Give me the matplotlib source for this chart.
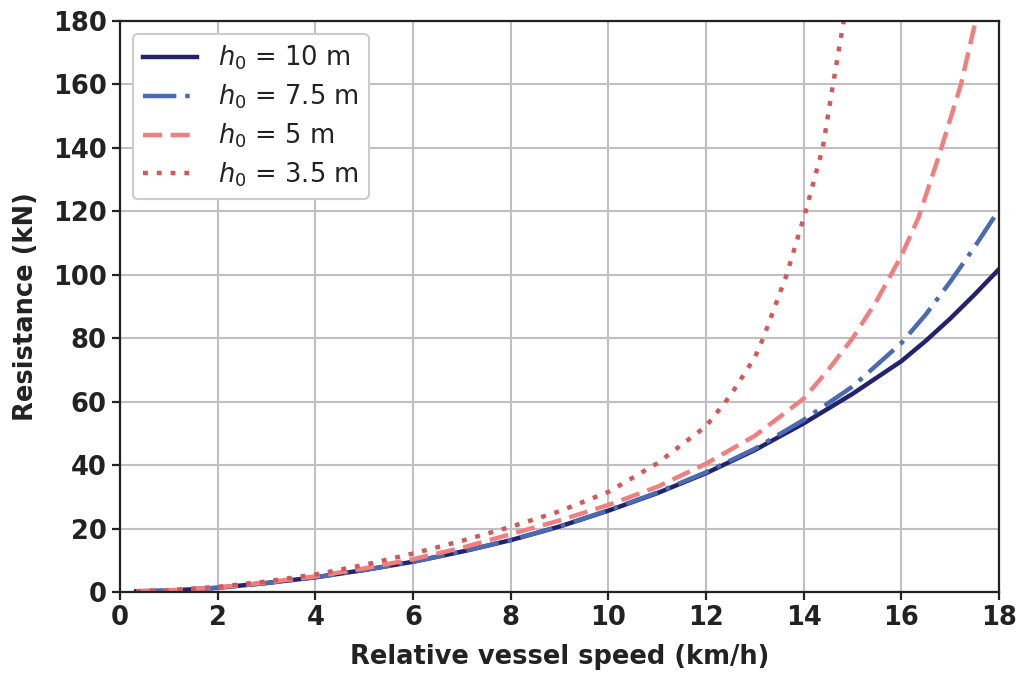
import matplotlib
matplotlib.use("Agg")
import matplotlib.pyplot as plt

# Opór [kN] w funkcji prędkości [km/h]
speed = [0.33, 1, 2, 3, 4, 5, 6, 7, 8, 9, 10, 11, 12, 13, 14, 15, 16,
         16.5, 17, 17.5, 18]
res_h10 = [0.3, 0.5, 1.4, 2.9, 4.7, 7.0, 9.6, 12.8, 16.4, 20.7, 25.7, 31.2,
           37.5, 44.8, 53.2, 62.5, 72.8, 79.2, 86.2, 93.8, 101.8]
res_h75 = [0.3, 0.5, 1.4, 2.9, 4.7, 7.0, 9.6, 12.8, 16.4, 20.7, 25.8, 31.4,
           37.8, 45.2, 54.3, 64.8, 78.5, 87.5, 97.8, 108.8, 120.5]

speed_h5 = [0.33, 1, 2, 3, 4, 5, 6, 7, 8, 9, 10, 11, 12, 13, 14, 14.5, 15,
            15.5, 16, 16.35, 16.79, 17.22, 17.52]
res_h5 = [0.3, 0.6, 1.5, 3.1, 5.0, 7.5, 10.4, 14.0, 18.3, 22.6, 27.5, 33.2,
          40.5, 49.3, 61.0, 70.0, 80.0, 92.0, 106.0, 118.0, 138.5, 160.0,
          180.0]

speed_h35 = [0.33, 1, 2, 3, 4, 5, 6, 7, 8, 9, 10, 11, 12, 12.5, 13, 13.17,
             13.65, 14.04, 14.39, 14.6, 14.82]
res_h35 = [0.35, 0.6, 1.7, 3.4, 5.6, 8.6, 12.2, 16.2, 20.6, 25.5, 31.6, 40.6,
           52.3, 62.0, 74.0, 80.0, 100.0, 120.0, 140.0, 160.0, 180.0]

labels = [r"$h_0$ = 10 m", r"$h_0$ = 7.5 m", r"$h_0$ = 5 m", r"$h_0$ = 3.5 m"]

fig = plt.figure(figsize=(10.21, 6.73), dpi=100)
ax = fig.add_axes([0.1175, 0.120, 0.861, 0.849])

ax.plot(speed, res_h10, color="#22226e", lw=3.2, label=labels[0])
ax.plot(speed, res_h75, color="#4a6ab4", lw=3.2, dashes=(7.5, 2, 1, 2),
        label=labels[1])
ax.plot(speed_h5, res_h5, color="#f08080", lw=3.2, dashes=(4.3, 1.9),
        label=labels[2])
ax.plot(speed_h35, res_h35, color="#d05a5a", lw=3.2, dashes=(1.1, 2),
        label=labels[3])

ax.set_xlim(0, 18)
ax.set_ylim(0, 180)
ax.set_xticks(range(0, 19, 2))
ax.set_yticks(range(0, 181, 20))
ax.grid(True, color="#c0c0c4", lw=1.5)
ax.set_axisbelow(True)

for s in ax.spines.values():
    s.set_color("#222222")
    s.set_linewidth(1.6)
ax.tick_params(width=1.6, length=6, color="#222222", labelsize=18.5,
               labelcolor="#222222")
for t in ax.get_xticklabels() + ax.get_yticklabels():
    t.set_fontweight("bold")

ax.set_xlabel("Relative vessel speed (km/h)", fontsize=18.5,
              fontweight="bold", color="#222222", labelpad=9)
ax.set_ylabel("Resistance (kN)", fontsize=18.5, fontweight="bold",
              color="#222222", labelpad=10)

leg = ax.legend(loc="upper left", fontsize=18.5, handlelength=2.1,
                labelspacing=0.4, framealpha=1, edgecolor="#cccccc",
                fancybox=True)
leg.get_frame().set_linewidth(1.5)
for t in leg.get_texts():
    t.set_color("#222222")

fig.savefig("out.png", dpi=100)
plt.close(fig)
